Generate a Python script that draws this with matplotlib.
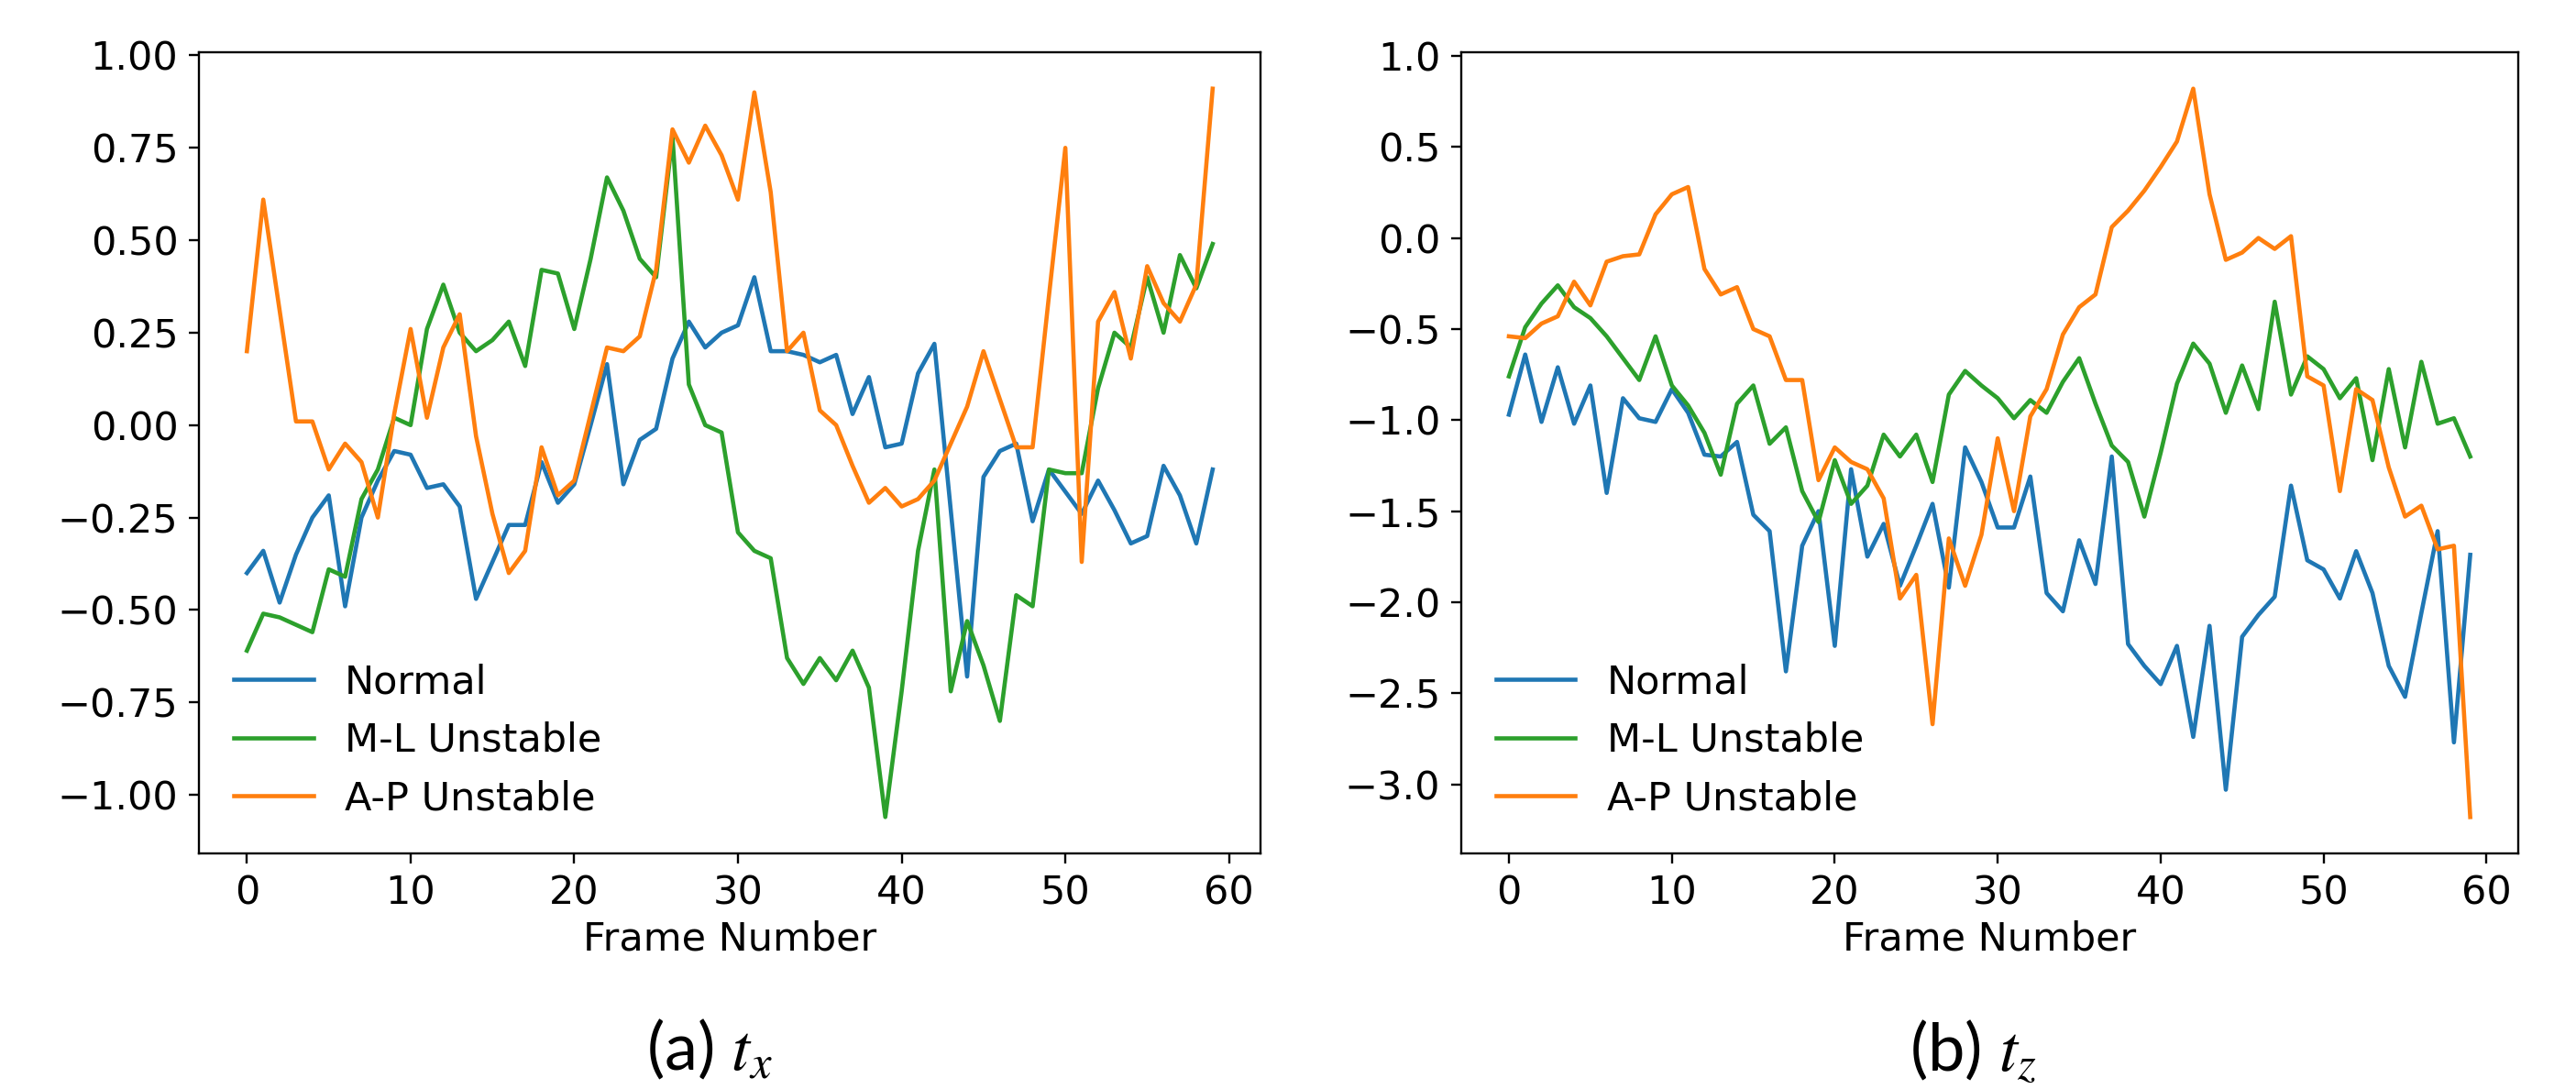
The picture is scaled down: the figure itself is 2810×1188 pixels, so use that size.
import matplotlib
matplotlib.use('Agg')
import matplotlib.pyplot as plt
import numpy as np

frames = np.arange(60)

# (a) t_x
tx_normal = [-0.40, -0.34, -0.48, -0.35, -0.25, -0.19, -0.49, -0.25, -0.15, -0.07,
             -0.08, -0.17, -0.16, -0.22, -0.47, -0.37, -0.27, -0.27, -0.10, -0.21,
             -0.16, 0.00, 0.165, -0.16, -0.04, -0.01, 0.18, 0.28, 0.21, 0.25,
             0.27, 0.40, 0.20, 0.20, 0.19, 0.17, 0.19, 0.03, 0.13, -0.06,
             -0.05, 0.14, 0.22, -0.23, -0.68, -0.14, -0.07, -0.05, -0.26, -0.12,
             -0.18, -0.24, -0.15, -0.23, -0.32, -0.30, -0.11, -0.19, -0.32, -0.12]
tx_ml = [-0.61, -0.51, -0.52, -0.54, -0.56, -0.39, -0.41, -0.20, -0.12, 0.02,
         0.00, 0.26, 0.38, 0.25, 0.20, 0.23, 0.28, 0.16, 0.42, 0.41,
         0.26, 0.45, 0.67, 0.58, 0.45, 0.40, 0.78, 0.11, 0.00, -0.02,
         -0.29, -0.34, -0.36, -0.63, -0.70, -0.63, -0.69, -0.61, -0.71, -1.06,
         -0.72, -0.34, -0.12, -0.72, -0.53, -0.65, -0.80, -0.46, -0.49, -0.12,
         -0.13, -0.13, 0.10, 0.25, 0.21, 0.40, 0.25, 0.46, 0.37, 0.49]
tx_ap = [0.20, 0.61, 0.31, 0.01, 0.01, -0.12, -0.05, -0.10, -0.25, 0.03,
         0.26, 0.02, 0.21, 0.30, -0.03, -0.24, -0.40, -0.34, -0.06, -0.19,
         -0.15, 0.03, 0.21, 0.20, 0.24, 0.42, 0.80, 0.71, 0.81, 0.73,
         0.61, 0.90, 0.63, 0.20, 0.25, 0.04, 0.00, -0.11, -0.21, -0.17,
         -0.22, -0.20, -0.15, -0.05, 0.05, 0.20, 0.07, -0.06, -0.06, 0.35,
         0.75, -0.37, 0.28, 0.36, 0.18, 0.43, 0.33, 0.28, 0.38, 0.91]

# (b) t_z
tz_normal = [-0.97, -0.64, -1.01, -0.71, -1.02, -0.81, -1.40, -0.88, -0.99, -1.01,
             -0.83, -0.96, -1.19, -1.20, -1.12, -1.52, -1.61, -2.38, -1.69, -1.50,
             -2.24, -1.27, -1.75, -1.57, -1.91, -1.69, -1.46, -1.92, -1.15, -1.34,
             -1.59, -1.59, -1.31, -1.95, -2.05, -1.66, -1.90, -1.20, -2.23, -2.35,
             -2.45, -2.24, -2.74, -2.13, -3.03, -2.19, -2.07, -1.97, -1.36, -1.77,
             -1.82, -1.98, -1.72, -1.95, -2.35, -2.52, -2.06, -1.61, -2.77, -1.74]
tz_ml = [-0.76, -0.49, -0.36, -0.26, -0.38, -0.44, -0.54, -0.66, -0.78, -0.54,
         -0.81, -0.92, -1.07, -1.30, -0.91, -0.81, -1.13, -1.04, -1.39, -1.56,
         -1.22, -1.46, -1.36, -1.08, -1.20, -1.08, -1.34, -0.86, -0.73, -0.81,
         -0.88, -0.99, -0.89, -0.96, -0.79, -0.66, -0.91, -1.14, -1.23, -1.53,
         -1.18, -0.80, -0.58, -0.69, -0.96, -0.70, -0.94, -0.35, -0.86, -0.65,
         -0.72, -0.88, -0.77, -1.22, -0.72, -1.15, -0.68, -1.02, -0.99, -1.20]
tz_ap = [-0.54, -0.55, -0.47, -0.43, -0.24, -0.37, -0.13, -0.10, -0.09, 0.13,
         0.24, 0.28, -0.17, -0.31, -0.27, -0.50, -0.54, -0.78, -0.78, -1.33,
         -1.15, -1.23, -1.27, -1.43, -1.98, -1.85, -2.67, -1.65, -1.91, -1.63,
         -1.10, -1.50, -0.98, -0.83, -0.53, -0.38, -0.31, 0.06, 0.15, 0.26,
         0.39, 0.53, 0.82, 0.24, -0.12, -0.08, 0.00, -0.06, 0.01, -0.76,
         -0.81, -1.39, -0.83, -0.89, -1.26, -1.53, -1.47, -1.71, -1.69, -3.18]

labels = ['Normal', 'M-L Unstable', 'A-P Unstable']
colors = ['#1f77b4', '#2ca02c', '#ff7f0e']
captions = ['(a) $t_x$', '(b) $t_z$']

plt.rcParams['font.size'] = 31
plt.rcParams['mathtext.fontset'] = 'stix'

fig = plt.figure(figsize=(28.1, 11.88), dpi=100)
ax1 = fig.add_axes([0.0771, 0.2163, 0.4124, 0.7357])
ax2 = fig.add_axes([0.5671, 0.2163, 0.4105, 0.7357])

for ax, series in [(ax1, [tx_normal, tx_ml, tx_ap]), (ax2, [tz_normal, tz_ml, tz_ap])]:
    for vals, lab, col in zip(series, labels, colors):
        ax.plot(frames, vals, color=col, lw=3.3, label=lab)
    ax.set_xlabel('Frame Number', labelpad=6)
    ax.set_xticks([0, 10, 20, 30, 40, 50, 60])
    ax.tick_params(length=8, width=1.7, pad=8)
    for s in ax.spines.values():
        s.set_linewidth(1.7)
    ax.legend(loc='lower left', frameon=False)

ax1.set_yticks([1.0, 0.75, 0.5, 0.25, 0.0, -0.25, -0.5, -0.75, -1.0])
ax1.set_yticklabels(['1.00', '0.75', '0.50', '0.25', '0.00', '\u22120.25', '\u22120.50', '\u22120.75', '\u22121.00'])
ax2.set_yticks([1.0, 0.5, 0.0, -0.5, -1.0, -1.5, -2.0, -2.5, -3.0])

fig.text(0.2755, 0.017, captions[0], ha='center', va='baseline', fontsize=52, family='Lato')
fig.text(0.766, 0.017, captions[1], ha='center', va='baseline', fontsize=52, family='Lato')

fig.savefig('out.png', dpi=100, facecolor='white')
